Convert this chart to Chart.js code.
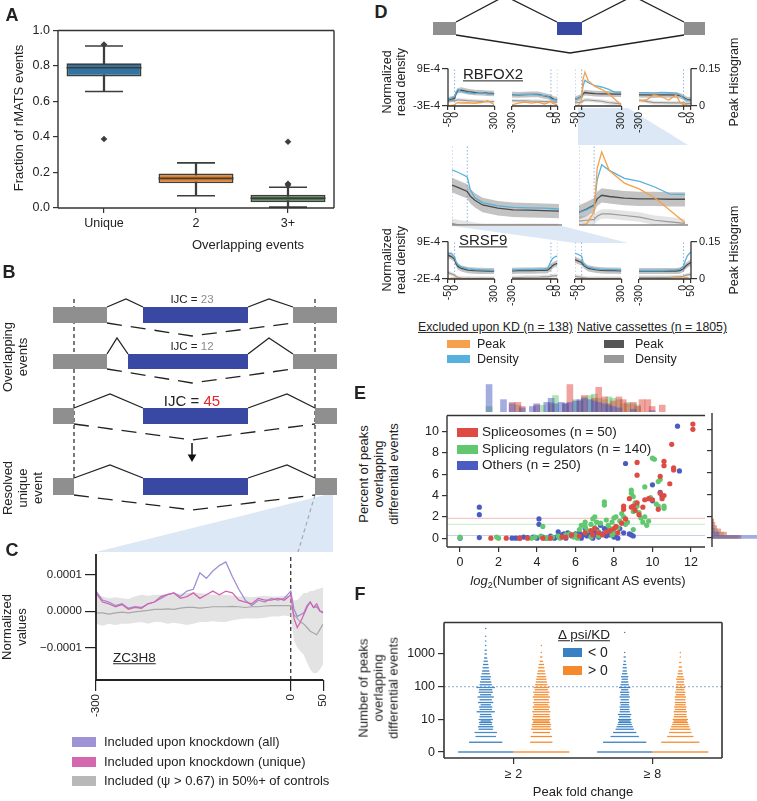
<!DOCTYPE html>
<html>
<head>
<meta charset="utf-8">
<script src="https://cdn.jsdelivr.net/npm/chart.js@4.4.1/dist/chart.umd.min.js"></script>
<style>
body { margin: 0; background: #fff; }
#fig { position: relative; width: 757px; height: 801px; overflow: hidden; font-family: "Liberation Sans", Arial, sans-serif; color: #222; }
#fig canvas { position: absolute; }
.t { position: absolute; white-space: nowrap; line-height: 1.15; text-align: center; }
.p { position: absolute; }
</style>
</head>
<body>
<div id="fig"></div>
<script>
// ---------- A: fraction of rMATS events ----------
var overlapCats = ['Unique', '2', '3+'];
var boxLow = [0.656, 0.069, 0.005];
var boxQ1 = [0.741, 0.139, 0.033];
var boxMed = [0.790, 0.167, 0.055];
var boxQ3 = [0.815, 0.194, 0.074];
var boxHigh = [0.913, 0.254, 0.117];
var outlierCat = ['Unique', 'Unique', '3+', '3+', '3+'];
var outlierVal = [0.921, 0.389, 0.373, 0.137, 0.129];

// ---------- B: schematic (panel units) ----------
var bRowY = [55, 101.5, 156, 226.5];
var bExonH = [16, 15, 16, 17];
var bLeftExon = [[13, 67], [13, 67], [13, 34], [13, 34]];
var bMidExon = [[103, 208], [88, 208], [103, 208], [103, 208]];
var bRightExon = [[253, 297], [253, 297], [275, 297], [275, 297]];
var bPeakL = [86, 77, 70, 70];
var bPeakR = [229, 229, 247, 247];
var bRise = [8, 16, 14, 13];
var bDip = [13, 14, 16, 15];
var bSkipMid = 152;
var bGuideTop = 39;
var bZoomLine = [[275, 235], [258, 292]];
var bArrow = [152, 183, 199];

// ---------- C: ZC3H8 normalized values (x 1e-4) ----------
var cPos = [-300, -290, -280, -270, -260, -250, -240, -230, -220, -210, -200, -190, -180, -170, -160, -150, -140, -130, -120, -110,
            -100, -90, -80, -70, -60, -50, -40, -30, -20, -10, 0, 5, 10, 15, 20, 25, 30, 35, 40, 45, 50];
var cAll = [0.55, 0.3, 0.25, 0.15, 0.2, 0.08, 0.12, 0.1, 0.2, 0.25, 0.35, 0.45, 0.5, 0.4, 0.55, 0.6, 1.05, 0.9, 1.1, 1.25,
            1.35, 0.95, 0.6, 0.3, 0.15, 0.3, 0.25, 0.35, 0.3, 0.35, 0.55, 0.05, -0.15, -0.1, -0.05, 0.15, 0.25, 0.1, 0.12, 0.0, -0.02];
var cUnique = [0.5, 0.25, 0.2, 0.12, 0.18, 0.05, 0.1, 0.08, 0.2, 0.25, 0.4, 0.45, 0.5, 0.35, 0.4, 0.5, 0.35, 0.45, 0.55, 0.45,
               0.55, 0.5, 0.3, 0.25, 0.2, 0.35, 0.3, 0.3, 0.35, 0.3, 0.45, -0.2, -0.45, -0.3, -0.1, 0.1, 0.25, 0.1, 0.2, 0.0, -0.05];
var cCtrl = [-0.05, -0.05, -0.08, -0.05, -0.03, -0.05, -0.02, 0.0, 0.02, 0.05, 0.05, 0.06, 0.05, 0.08, 0.1, 0.1, 0.08, 0.1, 0.12, 0.12,
             0.12, 0.13, 0.12, 0.1, 0.12, 0.12, 0.14, 0.15, 0.15, 0.15, 0.15, -0.1, -0.2, -0.3, -0.35, -0.45, -0.55, -0.6, -0.65, -0.5, -0.35];
var cCtrlHi = [0.45, 0.4, 0.35, 0.38, 0.35, 0.33, 0.4, 0.45, 0.42, 0.45, 0.45, 0.48, 0.5, 0.48, 0.5, 0.52, 0.5, 0.48, 0.45, 0.45,
               0.45, 0.42, 0.4, 0.4, 0.38, 0.4, 0.42, 0.4, 0.4, 0.42, 0.4, 0.3, 0.3, 0.4, 0.5, 0.5, 0.55, 0.55, 0.6, 0.62, 0.65];
var cCtrlLo = [-0.35, -0.4, -0.35, -0.38, -0.35, -0.35, -0.32, -0.3, -0.35, -0.3, -0.3, -0.35, -0.32, -0.35, -0.38, -0.35, -0.3, -0.3, -0.28, -0.3,
               -0.3, -0.25, -0.22, -0.2, -0.2, -0.2, -0.18, -0.15, -0.15, -0.12, -0.15, -0.8, -1.0, -1.1, -1.2, -1.4, -1.6, -1.7, -1.7, -1.6, -1.45];

// ---------- D: read density (x 1e-4) and peak histogram ----------
var dPosIn = [-50, -25, 0, 10, 25, 50, 100, 150, 200, 250, 300];
var dPosOut = [-300, -250, -200, -150, -100, -50, -25, 0, 10, 25, 50];
var dTicksIn = [-50, 0, 300];
var dTicksOut = [-300, 0, 50];
var dDarkSpread = 0.9, dLightSpread = 0.6;

var rbfoxBlue = [[-0.9, -0.5, 0.0, 1.4, 2.3, 1.6, 1.25, 1.0, 1.35, 0.8, 0.8],
                 [0.5, 0.6, 0.72, 0.6, 0.5, 0.3, 0.1, -0.77, -0.9, -1.0, -1.1],
                 [-0.9, -0.6, -0.1, 3.2, 5.1, 4.4, 3.4, 3.0, 2.3, 1.4, 1.35],
                 [1.26, 1.26, 1.1, 1.4, 1.25, 1.1, 0.6, -0.55, -0.9, -1.1, -1.2]];
var rbfoxDark = [[-1.1, -0.8, -0.55, 1.0, 1.9, 2.1, 1.6, 1.35, 1.25, 1.1, 1.0],
                 [0.6, 0.5, 0.6, 0.7, 0.7, 0.2, 0.0, -0.3, -0.6, -0.9, -1.0],
                 [-0.9, -0.5, 0.0, 0.8, 1.25, 1.1, 0.9, 0.8, 0.8, 0.75, 0.75],
                 [0.6, 0.55, 0.5, 0.6, 0.55, 0.5, 0.3, -0.2, -0.6, -0.9, -1.0]];
var rbfoxLight = [[-1.1, -1.2, -1.3, -1.2, -1.0, -1.1, -1.3, -1.4, -1.5, -1.6, -1.6],
                  [-1.3, -1.4, -1.4, -1.5, -1.5, -1.6, -1.6, -1.6, -1.7, -1.8, -1.8],
                  [-2.0, -1.9, -1.8, -1.4, -1.1, -1.1, -1.3, -1.5, -1.9, -2.1, -2.3],
                  [-1.1, -1.5, -1.9, -1.9, -2.0, -2.0, -2.0, -2.0, -2.1, -2.2, -2.2]];
var rbfoxPeak = [[0, 0.002, 0.004, 0.01, 0.013, 0.012, 0.013, 0.011, 0.014, 0.021, 0.005],
                 [0.004, 0.011, 0.015, 0.011, 0.015, 0.008, 0.012, 0.021, 0.012, 0.008, 0.004],
                 [0, 0.002, 0.024, 0.104, 0.134, 0.1, 0.077, 0.066, 0.05, 0.027, 0.004],
                 [0.021, 0.024, 0.044, 0.037, 0.024, 0.044, 0.015, 0.004, 0.007, 0.004, 0]];

var srsfBlue = [[5.5, 5.6, 4.5, 3.1, 2.2, 1.55, 1.0, 0.8, 0.7, 0.6, 0.5],
                [0.6, 0.7, 0.8, 0.75, 0.8, 0.9, 1.0, 3.1, 3.8, 4.3, 4.7],
                [5.5, 5.1, 4.6, 3.0, 2.0, 1.4, 1.0, 0.8, 0.75, 0.7, 0.6],
                [0.5, 0.5, 0.55, 0.5, 0.6, 0.7, 0.9, 1.8, 3.2, 4.8, 6.0]];
var srsfDark = [[5.0, 4.6, 3.8, 2.6, 1.7, 1.1, 0.6, 0.45, 0.4, 0.35, 0.34],
                [0.35, 0.4, 0.4, 0.45, 0.5, 0.5, 0.6, 1.3, 1.8, 2.2, 2.5],
                [3.6, 3.2, 2.8, 2.2, 1.7, 1.1, 0.7, 0.5, 0.45, 0.4, 0.34],
                [0.34, 0.35, 0.35, 0.34, 0.35, 0.35, 0.45, 1.0, 1.6, 2.2, 2.9]];
var srsfLight = [[-0.1, -0.5, -0.9, -1.3, -1.6, -1.7, -1.8, -1.8, -1.8, -1.8, -1.8],
                 [-1.6, -1.6, -1.5, -1.5, -1.5, -1.4, -1.4, -1.2, -1.1, -1.1, -1.0],
                 [-1.2, -1.4, -1.5, -1.6, -1.7, -1.8, -1.8, -1.8, -1.8, -1.8, -1.8],
                 [-1.5, -1.5, -1.5, -1.5, -1.5, -1.4, -1.4, -1.2, -1.0, -0.8, -0.6]];
var srsfPeak = [[0, 0.003, 0.003, 0.002, 0, 0, 0.002, 0, 0.002, 0, 0],
                [0, 0, 0.002, 0, 0, 0, 0.002, 0, 0, 0, 0],
                [0, 0, 0, 0, 0, 0, 0, 0, 0, 0, 0],
                [0, 0, 0, 0, 0.002, 0.005, 0.005, 0.002, 0.005, 0.005, 0]];

// top schematic of D (panel units)
var dExons = [[8, 31], [132, 157], [259, 280]];
var dExonY = 28.5, dExonH = 13;
var dInclLeft = [[31, 22], [80, -4], [132, 22]];
var dInclRight = [[157, 22], [208, -4], [259, 22]];
var dSkip = [[31, 35], [145, 53], [259, 35]];

// ---------- E: percent of peaks vs log2(AS events) ----------
var spliceoX = [1.6, 2.4, 3.1, 3.5, 4.3, 4.7, 5.3, 5.5, 5.8, 6.2, 6.5, 6.8, 6.9, 7.0, 7.2, 7.4, 7.6, 7.8, 8.0, 8.1, 8.2, 8.4, 8.5, 8.5, 8.6,
                8.8, 8.9, 9.0, 9.1, 9.2, 9.2, 9.2, 9.3, 9.5, 9.6, 9.8, 10.0, 10.3, 10.4, 10.4, 10.5, 10.6, 10.6, 10.6, 10.9, 11.0, 11.1, 11.1, 12.1, 12.1];
var spliceoY = [0.0, 0.0, 0.0, 0.0, 0.0, 0.0, 0.1, 0.1, 0.3, 0.2, 0.5, 0.7, 0.3, 0.9, 0.5, 0.3, 0.6, 0.7, 0.9, 1.1, 0.5, 1.4, 2.7, 3.0, 1.8,
                3.7, 2.9, 3.0, 2.6, 3.3, 5.9, 7.1, 2.2, 2.9, 3.6, 3.7, 3.6, 2.7, 4.2, 5.8, 3.7, 4.0, 6.8, 7.2, 5.1, 8.8, 6.6, 6.4, 10.2, 10.7];
var regX = [0, 0, 1.9, 2.0, 3.7, 3.9, 4.2, 4.3, 4.4, 4.6, 4.8, 5.1, 5.2, 5.5, 5.7, 5.9, 6.0, 6.1, 6.2, 6.3, 6.5, 6.5, 6.6, 6.8, 6.8, 6.9,
            7.0, 7.0, 7.1, 7.2, 7.2, 7.3, 7.5, 7.5, 7.6, 7.7, 7.8, 7.9, 7.9, 8.0, 8.0, 8.1, 8.2, 8.3, 8.4, 8.5, 8.6, 8.7, 8.9, 8.9,
            9.0, 9.0, 9.0, 9.1, 9.2, 9.3, 9.4, 9.5, 9.6, 9.6, 9.7, 9.8, 9.9, 10.0, 10.1, 10.2, 10.3, 10.3, 10.4, 10.6, 10.6];
var regY = [0.05, 0.1, 0.1, 0.0, 0.0, 0.1, 0.2, 1.1, 0.0, 0.0, 0.1, 0.2, 0.0, 0.3, 0.4, 0.1, 0.3, 0.0, 0.8, 1.2, 1.5, 1.1, 0.7, 1.3, 0.1, 1.8,
            2.0, 1.0, 1.5, 0.6, 0.2, 1.4, 3.4, 3.1, 1.7, 1.2, 0.9, 1.5, 0.3, 1.9, 0.5, 2.0, 1.0, 1.6, 2.3, 2.0, 1.3, 1.5, 4.2, 4.5,
            3.9, 2.5, 0.8, 3.3, 3.0, 2.4, 1.9, 1.5, 4.8, 2.0, 1.2, 1.6, 3.8, 7.5, 7.4, 3.2, 3.0, 5.3, 5.5, 3.0, 2.8];
var otherX = [0, 1, 1, 1, 2.7, 2.9, 3.1, 3.3, 3.5, 3.8, 4.0, 4.1, 4.1, 4.3, 4.5, 4.7, 4.9, 5.0, 5.1, 5.3, 5.4, 5.5, 5.6, 5.8, 6.0, 6.1,
              6.2, 6.3, 6.4, 6.5, 6.6, 6.7, 6.8, 6.9, 7.0, 7.0, 7.1, 7.2, 7.3, 7.4, 7.5, 7.6, 7.7, 7.8, 7.9, 8.0, 8.1, 8.2, 8.3, 8.5,
              8.6, 8.8, 8.9, 9.0, 10.0, 10.0, 10.4, 10.5, 11.3, 11.4];
var otherY = [0.0, 2.9, 2.2, 0.05, 0.0, 0.0, 0.0, 0.1, 0.05, 0.1, 0.0, 1.8, 1.3, 0.1, 0.0, 0.2, 0.0, 0.1, 0.6, 0.3, 0.4, 0.0, 0.5, 0.2, 0.4, 0.1,
              0.5, 0.0, 0.3, 0.9, 0.2, 0.6, 0.5, 0.0, 0.3, 0.7, 0.8, 0.1, 1.2, 0.4, 0.9, 0.2, 1.0, 0.3, 0.6, 0.1, 0.4, 0.0, 0.9, 0.5,
              7.0, 0.4, 0.3, 0.2, 3.5, 5.0, 4.3, 3.9, 10.5, 6.3];
var groupMean = [1.85, 1.3, 0.25];
var histOtherX = [0, 1, 1.6, 2.3, 3.0, 3.3, 4.0, 4.3, 4.6, 5.0, 5.3, 5.6, 6.0, 6.3, 6.6, 7.0, 7.3, 7.6, 8.0, 8.3, 8.6, 9.0, 10.0, 11.3];
var histOtherH = [1.0, 0.45, 0.3, 0.15, 0.2, 0.3, 0.35, 0.5, 0.3, 0.35, 0.3, 0.35, 0.4, 0.45, 0.5, 0.45, 0.4, 0.35, 0.3, 0.25, 0.2, 0.15, 0.1, 0.05];
var histSpliceoX = [1.6, 2.0, 2.3, 3.3, 4.3, 5.3, 5.6, 6.3, 6.6, 7.3, 7.6, 8.0, 8.3, 8.6, 9.0, 9.3, 9.6, 10.0, 10.3, 10.6, 11.0, 11.3, 12.0];
var histSpliceoH = [0.35, 0.35, 0.2, 0.25, 0.3, 0.3, 1.0, 0.4, 0.6, 0.5, 0.9, 0.55, 0.3, 0.4, 0.55, 0.45, 0.3, 0.35, 0.2, 0.45, 0.45, 0.2, 0.25];
var histRegX = [0, 2.0, 3.7, 4.3, 4.6, 5.3, 6.0, 6.3, 6.6, 7.0, 7.3, 7.6, 8.0, 8.3, 8.6, 9.0, 9.3, 9.6, 10.0, 10.3];
var histRegH = [0.2, 0.25, 0.25, 0.35, 0.6, 0.3, 0.45, 0.4, 0.55, 0.6, 0.65, 0.5, 0.45, 0.55, 0.5, 0.45, 0.3, 0.35, 0.3, 0.25];
var sideHistY = [0.1, 0.4, 0.7, 1.0, 1.3, 1.6];
var sideSpliceo = [0.5, 0.25, 0.15, 0.08, 0.05, 0.03];
var sideReg = [0.45, 0.2, 0.1, 0.05, 0.03, 0.02];
var sideOther = [1.3, 0.12, 0.04, 0.02, 0.01, 0];

// ---------- F: number of peaks per event (value 1 is shown as "0") ----------
var foldCats = ['\u2265 2', '\u2265 8'];
var neg2Val = [1, 2, 3, 4, 5, 6, 7, 8, 9, 10, 12, 14, 17, 20, 24, 28, 33, 40, 48, 57,
               68, 80, 95, 115, 140, 170, 200, 250, 300, 380, 480, 600, 750, 1000, 1300, 1800, 2500, 3500, 6000];
var neg2Cnt = [55, 33, 20, 22, 14, 15, 12, 13, 10, 14, 12, 11, 18, 12, 13, 10, 15, 12, 16, 11,
               14, 13, 18, 12, 11, 9, 10, 8, 7, 6, 5, 4, 3, 2, 2, 1, 1, 1, 1];
var pos2Val = [1, 2, 3, 4, 5, 6, 7, 8, 9, 10, 12, 14, 17, 20, 24, 28, 33, 40, 48, 57,
               68, 80, 95, 115, 140, 170, 200, 250, 300, 380, 480, 600, 800, 1100, 1800];
var pos2Cnt = [56, 22, 21, 17, 20, 18, 19, 17, 16, 18, 17, 16, 18, 15, 17, 14, 16, 15, 17, 14,
               16, 13, 15, 12, 11, 10, 9, 8, 7, 6, 5, 3, 2, 1, 1];
var neg8Val = [1, 2, 3, 4, 5, 6, 7, 8, 9, 10, 12, 14, 17, 20, 24, 28, 33, 40, 48, 57,
               68, 80, 95, 115, 140, 170, 200, 250, 300, 380, 480, 600, 800, 1100, 4500];
var neg8Cnt = [55, 43, 28, 23, 18, 16, 14, 13, 11, 13, 11, 13, 10, 9, 10, 8, 9, 8, 10, 8,
               9, 7, 11, 8, 7, 6, 7, 5, 4, 4, 3, 2, 2, 1, 1];
var pos8Val = [1, 2, 3, 4, 5, 6, 7, 8, 9, 10, 12, 14, 17, 20, 24, 28, 33, 40, 48, 57,
               68, 80, 95, 115, 140, 170, 200, 250, 300, 400, 550, 800, 1100];
var pos8Cnt = [56, 38, 26, 22, 20, 18, 16, 15, 13, 15, 13, 12, 13, 11, 12, 10, 11, 10, 11, 9,
               10, 8, 9, 8, 7, 8, 6, 5, 4, 3, 2, 1, 1];
var refLine = 100;

var blueBox = '#3274a1', orangeBox = '#e1812c', greenBox = '#4b7b50';
var dOrange = '#f5a04a', dBlue = '#56b1dd', dDark = '#4b4b4b', dLight = '#9a9a9a';
var eRed = '#df4a42', eGreen = '#62c870', eBlue = '#4a5cc2';
var fBlue = '#3a80c3', fOrange = '#f5892b';

Chart.defaults.font.family = '"Liberation Sans", Arial, sans-serif';
Chart.defaults.color = '#222';
Chart.defaults.animation = false;
Chart.defaults.responsive = false;
Chart.defaults.devicePixelRatio = 1;
Chart.defaults.plugins.legend.display = false;
Chart.defaults.plugins.tooltip.enabled = false;
Chart.defaults.elements.point.radius = 0;
Chart.defaults.elements.line.tension = 0;

/* spines drawn around the plotting area */
Chart.register({
    id: 'frame',
    defaults: { sides: '', color: '#333', width: 1.3 },
    afterDatasetsDraw: function(chart, args, o) {
        if (!o.sides) return;
        var a = chart.chartArea, ctx = chart.ctx;
        ctx.save();
        ctx.strokeStyle = o.color;
        ctx.lineWidth = o.width;
        ctx.beginPath();
        if (o.sides.indexOf('l') > -1) { ctx.moveTo(a.left, a.top); ctx.lineTo(a.left, a.bottom); }
        if (o.sides.indexOf('r') > -1) { ctx.moveTo(a.right, a.top); ctx.lineTo(a.right, a.bottom); }
        if (o.sides.indexOf('t') > -1) { ctx.moveTo(a.left, a.top); ctx.lineTo(a.right, a.top); }
        if (o.sides.indexOf('b') > -1) { ctx.moveTo(a.left, a.bottom); ctx.lineTo(a.right, a.bottom); }
        ctx.stroke();
        ctx.restore();
    }
});

var fig = document.getElementById('fig');

function text(html, x, y, o) {
    o = o || {};
    var d = document.createElement('div');
    d.className = 't';
    d.innerHTML = html;
    d.style.fontSize = (o.size || 13) + 'px';
    if (o.bold) d.style.fontWeight = 'bold';
    if (o.under) d.style.textDecoration = 'underline';
    if (o.color) d.style.color = o.color;
    d.style.left = x + 'px';
    d.style.top = y + 'px';
    d.style.transform = 'translate(' + (o.left ? '0' : '-50%') + ',-50%)' + (o.rot ? ' rotate(-90deg)' : '');
    fig.appendChild(d);
}

function patch(x, y, w, h, color) {
    var d = document.createElement('div');
    d.className = 'p';
    d.style.cssText = 'left:' + x + 'px;top:' + (y - h / 2) + 'px;width:' + w + 'px;height:' + h + 'px;background:' + color;
    fig.appendChild(d);
}

function shade(points) {
    var d = document.createElement('div');
    d.className = 'p';
    d.style.cssText = 'left:0;top:0;width:757px;height:801px;background:#dce8f5;clip-path:polygon(' +
        points.map(function(p) { return p[0] + 'px ' + p[1] + 'px'; }).join(',') + ')';
    fig.appendChild(d);
}

function makeChart(area, side, cfg) {
    var pad = side.pad === undefined ? 8 : side.pad;
    var sl = side.l || 0, sr = side.r || 0, sb = side.b || 0;
    var c = document.createElement('canvas');
    var w = area[2] - area[0] + 2 * pad + sl + sr;
    var h = area[3] - area[1] + 2 * pad + sb;
    c.width = w; c.height = h;
    c.style.left = (area[0] - pad - sl) + 'px';
    c.style.top = (area[1] - pad) + 'px';
    c.style.width = w + 'px';
    c.style.height = h + 'px';
    fig.appendChild(c);
    cfg.options = cfg.options || {};
    cfg.options.layout = { padding: pad, autoPadding: false };
    return new Chart(c, cfg);
}

function fixedTicks(values) {
    return function(s) { s.ticks = values.map(function(v) { return { value: v }; }); };
}

function axis(o) {
    var a = {
        type: o.type || 'linear',
        position: o.position,
        display: o.display !== false,
        min: o.min, max: o.max,
        reverse: !!o.reverse,
        offset: !!o.offset,
        grid: { display: true, drawOnChartArea: false, drawTicks: true, tickLength: o.tick || 5, color: o.color || '#333', lineWidth: 1.2, offset: false },
        border: { display: false },
        ticks: { display: !o.noLabels, font: { size: o.size || 12.5 }, color: '#222', padding: o.padding === undefined ? 3 : o.padding,
                 autoSkip: false, maxRotation: o.rot || 0, minRotation: o.rot || 0 },
        afterFit: function(s) { if (o.w !== undefined) s.width = o.w; if (o.h !== undefined) s.height = o.h; }
    };
    if (o.values) a.afterBuildTicks = fixedTicks(o.values);
    if (o.labels) a.ticks.callback = o.labels;
    return a;
}

function hidden(min, max, reverse) {
    return { type: 'linear', display: false, min: min, max: max, reverse: !!reverse };
}

function seg(points, color, width, dash) {
    return { data: points.map(function(p) { return { x: p[0], y: p[1] }; }), showLine: true, borderColor: color, borderWidth: width,
             borderDash: dash || [], borderCapStyle: 'butt', pointRadius: 0, fill: false, clip: false };
}

// ---------- light blue zoom shading ----------
shade([[96, 552], [333, 552], [333, 493]]);
shade([[578, 108], [628, 108], [688, 145], [578, 145]]);
shade([[452, 226], [562, 226], [628, 243], [575, 243]]);

// ---------- A ----------
makeChart([58, 28, 334, 208], { l: 50, b: 24 }, {
    type: 'bar',
    data: {
        labels: overlapCats,
        datasets: [
            { type: 'line', data: boxMed, showLine: false, pointStyle: 'line', pointRadius: 37.5, borderColor: '#3d3d3d', borderWidth: 1.6, order: 0 },
            { type: 'line', data: boxHigh, showLine: false, pointStyle: 'line', pointRadius: 19, borderColor: '#3d3d3d', borderWidth: 1.6, order: 1 },
            { type: 'line', data: boxLow, showLine: false, pointStyle: 'line', pointRadius: 19, borderColor: '#3d3d3d', borderWidth: 1.6, order: 1 },
            { type: 'line', data: outlierCat.map(function(c, i) { return { x: c, y: outlierVal[i] }; }), showLine: false,
              pointStyle: 'rectRot', pointRadius: 3.3, backgroundColor: '#3d3d3d', borderColor: '#3d3d3d', borderWidth: 0, order: 1 },
            { data: boxQ1.map(function(q, i) { return [q, boxQ3[i]]; }), backgroundColor: [blueBox, orangeBox, greenBox],
              borderColor: '#3d3d3d', borderWidth: 1.6, borderSkipped: false, barPercentage: 0.815, categoryPercentage: 1, grouped: false, order: 2 },
            { data: boxLow.map(function(l, i) { return [l, boxHigh[i]]; }), backgroundColor: '#3d3d3d', barThickness: 1.6, grouped: false, order: 3 }
        ]
    },
    options: {
        scales: {
            x: axis({ type: 'category', offset: true, h: 24 }),
            y: axis({ min: 0, max: 1, values: [0, 0.2, 0.4, 0.6, 0.8, 1], labels: function(v) { return v.toFixed(1); }, w: 50 })
        },
        plugins: { frame: { sides: 'lrtb', width: 1.4 } }
    }
});

// ---------- B schematic ----------
var bSets = [];
bRowY.forEach(function(y, r) {
    var top = y - bExonH[r] / 2, bot = y + bExonH[r] / 2;
    var L = bLeftExon[r], M = bMidExon[r], R = bRightExon[r];
    bSets.push(seg([[L[1], top], [bPeakL[r], top - bRise[r]], [M[0], top]], '#222', 1.3));
    bSets.push(seg([[M[1], top], [bPeakR[r], top - bRise[r]], [R[0], top]], '#222', 1.3));
    bSets.push(seg([[L[1], bot], [bSkipMid, bot + bDip[r]], [R[0], bot]], '#222', 1.3, [15, 9]));
    bSets.push(seg([[L[0], y], [L[1], y]], '#8f8f8f', bExonH[r]));
    bSets.push(seg([[M[0], y], [M[1], y]], '#3949a3', bExonH[r]));
    bSets.push(seg([[R[0], y], [R[1], y]], '#8f8f8f', bExonH[r]));
});
var guideBottom = bRowY[3] - bExonH[3] / 2;
bSets.push(seg([[bLeftExon[3][1], bGuideTop], [bLeftExon[3][1], guideBottom]], '#222', 1.2, [4, 3]));
bSets.push(seg([[bRightExon[3][0], bGuideTop], [bRightExon[3][0], guideBottom]], '#222', 1.2, [4, 3]));
bSets.push(seg(bZoomLine, '#aaa', 1.2, [4, 3]));
bSets.push(seg([[bArrow[0], bArrow[1]], [bArrow[0], bArrow[2] - 4]], '#111', 1.5));
bSets.push({ data: [{ x: bArrow[0], y: bArrow[2] - 2 }], pointStyle: 'triangle', rotation: 180, pointRadius: 5,
             backgroundColor: '#111', borderColor: '#111', borderWidth: 0, clip: false });
makeChart([40, 260, 340, 560], { pad: 0 }, {
    type: 'scatter',
    data: { datasets: bSets },
    options: { scales: { x: hidden(0, 300), y: hidden(0, 300, true) } }
});

// ---------- C ----------
function cPts(arr) { return cPos.map(function(p, i) { return { x: p, y: arr[i] }; }); }
makeChart([96, 552, 332, 680], { l: 60, b: 40 }, {
    type: 'line',
    data: {
        datasets: [
            { data: cPts(cUnique), borderColor: '#d564b0', borderWidth: 1.3 },
            { data: cPts(cAll), borderColor: '#9d8fd3', borderWidth: 1.3 },
            { data: cPts(cCtrl), borderColor: '#a8a8a8', borderWidth: 1.2 },
            { data: cPts(cCtrlHi), borderWidth: 0, backgroundColor: 'rgba(200,200,200,0.5)', fill: '+1' },
            { data: cPts(cCtrlLo), borderWidth: 0 },
            { data: [{ x: 0, y: -1.89 }, { x: 0, y: 1.57 }], borderColor: '#222', borderWidth: 1.2, borderDash: [4, 3] }
        ]
    },
    options: {
        scales: {
            x: axis({ min: -300, max: 50, values: [-300, 0, 50], labels: function(v) { return String(v); }, rot: 90, size: 11.5, tick: 11, h: 40, color: '#222' }),
            y: axis({ min: -1.89, max: 1.57, values: [-1, 0, 1], size: 11.5, tick: 11, w: 60, color: '#222',
                      labels: function(v) { return v === 0 ? '0.0000' : (v > 0 ? '0.0001' : '\u22120.0001'); } })
        },
        plugins: { frame: { sides: 'lb', color: '#222', width: 1.8 } }
    }
});

// ---------- D ----------
makeChart([425, 0, 715, 60], { pad: 0 }, {
    type: 'scatter',
    data: {
        datasets: [
            seg(dInclLeft, '#222', 1.3), seg(dInclRight, '#222', 1.3), seg(dSkip, '#222', 1.3),
            seg([[dExons[0][0], dExonY], [dExons[0][1], dExonY]], '#8f8f8f', dExonH),
            seg([[dExons[1][0], dExonY], [dExons[1][1], dExonY]], '#3949a3', dExonH),
            seg([[dExons[2][0], dExonY], [dExons[2][1], dExonY]], '#8f8f8f', dExonH)
        ]
    },
    options: { scales: { x: hidden(0, 290), y: hidden(0, 60, true) } }
});

function densityChart(o) {
    function pts(arr, shift) { return o.pos.map(function(p, i) { return { x: p, y: arr[i] + (shift || 0) }; }); }
    var ds = [
        { data: pts(o.peak), borderColor: dOrange, borderWidth: 1.3, yAxisID: 'y2' },
        { data: pts(o.blue), borderColor: dBlue, borderWidth: 1.3 },
        { data: pts(o.dark), borderColor: dDark, borderWidth: 1.3 },
        { data: pts(o.light), borderColor: dLight, borderWidth: 1.2 },
        { data: pts(o.dark, dDarkSpread), borderWidth: 0, backgroundColor: 'rgba(135,135,135,0.5)', fill: '+1' },
        { data: pts(o.dark, -dDarkSpread), borderWidth: 0 },
        { data: pts(o.light, dLightSpread), borderWidth: 0, backgroundColor: 'rgba(195,195,195,0.45)', fill: '+1' },
        { data: pts(o.light, -dLightSpread), borderWidth: 0 }
    ];
    o.bounds.forEach(function(b) {
        ds.push({ data: [{ x: b, y: o.yr[0] }, { x: b, y: o.yr[1] + 20 }], borderColor: '#8db4e2', borderWidth: 1, borderDash: [1.5, 2] });
    });
    var zoomBox = !o.ticks;
    var scales = {
        x: zoomBox ? hidden(o.xr[0], o.xr[1]) :
            axis({ min: o.xr[0], max: o.xr[1], values: o.ticks, labels: function(v) { return String(v); }, rot: 90, size: 10.5, tick: 4, padding: 2, h: 30 }),
        y: o.left ? axis({ position: 'left', min: o.yr[0], max: o.yr[1], values: o.yr, size: 11, tick: 6, padding: 2, w: 36,
                           labels: function(v) { return v + 'E-4'; } }) : hidden(o.yr[0], o.yr[1]),
        y2: o.right ? axis({ position: 'right', min: 0, max: 0.15, values: [0, 0.15], size: 11, tick: 6, padding: 2, w: 32,
                             labels: function(v) { return String(v); } }) : { type: 'linear', display: false, position: 'right', min: 0, max: o.y2max || 0.15 }
    };
    return makeChart(o.area, { l: o.left ? 36 : 0, r: o.right ? 32 : 0, b: zoomBox ? 0 : 30 }, {
        type: 'line',
        data: { datasets: ds },
        options: { scales: scales, plugins: { frame: { sides: (o.left ? 'l' : '') + (o.right ? 'r' : '') + 'b', color: zoomBox ? '#888' : '#333' } } }
    });
}

var dCols = [[448, 501], [512, 564], [575, 628], [639, 691]];
var dIsIn = [true, false, true, false];
var dBounds = [[0], [0, 50], [-50, 0], [0]];
dCols.forEach(function(c, k) {
    var common = { pos: dIsIn[k] ? dPosIn : dPosOut, xr: dIsIn[k] ? [-50, 300] : [-300, 50], ticks: dIsIn[k] ? dTicksIn : dTicksOut,
                   bounds: dBounds[k], left: k === 0, right: k === 3 };
    densityChart(Object.assign({ area: [c[0], 68, c[1], 106], yr: [-3, 9], blue: rbfoxBlue[k], dark: rbfoxDark[k], light: rbfoxLight[k], peak: rbfoxPeak[k] }, common));
    densityChart(Object.assign({ area: [c[0], 241, c[1], 279], yr: [-2, 9], blue: srsfBlue[k], dark: srsfDark[k], light: srsfLight[k], peak: srsfPeak[k] }, common));
});
// enlarged views of the third exon window
densityChart({ area: [452, 145, 562, 225], pos: dPosIn, xr: [-50, 310], bounds: [-50, 0], yr: [-1.4, 8.6],
               blue: srsfBlue[2], dark: srsfDark[2], light: srsfLight[2], peak: srsfPeak[2] });
densityChart({ area: [579, 145, 688, 225], pos: dPosIn, xr: [-50, 310], bounds: [-50, 0], yr: [-2.5, 7.6], y2max: 0.147,
               blue: rbfoxBlue[2], dark: rbfoxDark[2], light: rbfoxLight[2], peak: rbfoxPeak[2] });

// ---------- E ----------
function xy(xs, ys) { return xs.map(function(x, i) { return { x: x, y: ys[i] }; }); }
var eX = [-0.68, 12.73], eY = [-0.83, 11.5];
makeChart([447, 413, 705, 547], { l: 30, b: 30 }, {
    type: 'scatter',
    data: {
        datasets: [
            { data: xy(spliceoX, spliceoY), pointRadius: 2.6, backgroundColor: eRed, borderWidth: 0 },
            { data: xy(regX, regY), pointRadius: 2.6, backgroundColor: eGreen, borderWidth: 0 },
            { data: xy(otherX, otherY), pointRadius: 2.6, backgroundColor: eBlue, borderWidth: 0 },
            seg([[eX[0], groupMean[0]], [eX[1], groupMean[0]]], 'rgba(223,74,66,0.3)', 1.2),
            seg([[eX[0], groupMean[1]], [eX[1], groupMean[1]]], 'rgba(98,200,112,0.3)', 1.2),
            seg([[eX[0], groupMean[2]], [eX[1], groupMean[2]]], 'rgba(74,92,194,0.3)', 1.2)
        ]
    },
    options: {
        scales: {
            x: axis({ min: eX[0], max: eX[1], values: [0, 2, 4, 6, 8, 10, 12], h: 30 }),
            y: axis({ min: eY[0], max: eY[1], values: [0, 2, 4, 6, 8, 10], w: 30 })
        },
        plugins: { frame: { sides: 'lbt', width: 1.4 } }
    }
});
makeChart([447, 384, 705, 412], {}, {
    type: 'bar',
    data: {
        datasets: [
            { data: xy(histOtherX, histOtherH), backgroundColor: 'rgba(74,92,194,0.5)', barThickness: 6, grouped: false },
            { data: xy(histSpliceoX, histSpliceoH), backgroundColor: 'rgba(223,74,66,0.5)', barThickness: 6, grouped: false },
            { data: xy(histRegX, histRegH), backgroundColor: 'rgba(98,200,112,0.5)', barThickness: 6, grouped: false }
        ]
    },
    options: { scales: { x: hidden(eX[0], eX[1]), y: hidden(0, 1.02) } }
});
makeChart([712, 413, 770, 547], { l: 6 }, {
    type: 'bar',
    data: {
        datasets: [
            { data: sideOther.map(function(v, i) { return { x: v, y: sideHistY[i] }; }), backgroundColor: 'rgba(74,92,194,0.5)', barThickness: 3, grouped: false },
            { data: sideSpliceo.map(function(v, i) { return { x: v, y: sideHistY[i] }; }), backgroundColor: 'rgba(223,74,66,0.5)', barThickness: 3, grouped: false },
            { data: sideReg.map(function(v, i) { return { x: v, y: sideHistY[i] }; }), backgroundColor: 'rgba(98,200,112,0.5)', barThickness: 3, grouped: false }
        ]
    },
    options: {
        indexAxis: 'y',
        scales: {
            x: hidden(0, 1),
            y: axis({ min: eY[0], max: eY[1], values: [0, 2, 4, 6, 8, 10], noLabels: true, w: 6 })
        },
        plugins: { frame: { sides: 'l', width: 1.4 } }
    }
});

// ---------- F ----------
var swarmStep = 1 / 139;
function swarm(vals, counts, center) {
    var pts = [];
    vals.forEach(function(v, i) {
        for (var k = 0; k < counts[i]; k++) pts.push({ x: center + (k - (counts[i] - 1) / 2) * swarmStep, y: v });
    });
    return pts;
}
makeChart([444, 620, 722, 758], { l: 40, b: 26 }, {
    type: 'scatter',
    data: {
        datasets: [
            { data: swarm(neg2Val, neg2Cnt, 0.8), pointRadius: 0.75, backgroundColor: fBlue, borderWidth: 0 },
            { data: swarm(pos2Val, pos2Cnt, 1.2), pointRadius: 0.75, backgroundColor: fOrange, borderWidth: 0 },
            { data: swarm(neg8Val, neg8Cnt, 1.8), pointRadius: 0.75, backgroundColor: fBlue, borderWidth: 0 },
            { data: swarm(pos8Val, pos8Cnt, 2.2), pointRadius: 0.75, backgroundColor: fOrange, borderWidth: 0 },
            seg([[0.5, refLine], [2.5, refLine]], '#9ab8dd', 1.2, [2, 2])
        ]
    },
    options: {
        scales: {
            x: axis({ min: 0.5, max: 2.5, values: [1, 2], labels: function(v) { return foldCats[v - 1]; }, tick: 6, h: 26 }),
            y: axis({ type: 'logarithmic', min: 0.66, max: 9150, values: [1, 10, 100, 1000], tick: 6, w: 40,
                      labels: function(v) { return v === 1 ? '0' : String(v); } })
        },
        plugins: { frame: { sides: 'lrtb', width: 1.6 } }
    }
});

// ---------- texts ----------
text('A', 12, 15, { size: 18, bold: true });
text('B', 9, 272, { size: 18, bold: true });
text('C', 12, 550, { size: 18, bold: true });
text('D', 381, 12, { size: 18, bold: true });
text('E', 360, 393, { size: 18, bold: true });
text('F', 360, 594, { size: 18, bold: true });

text('Fraction of rMATS events', 19, 118, { rot: true });
text('Overlapping events', 248, 245);

text('IJC = <span style="color:#8a8a8a">23</span>', 192, 300, { size: 11.5 });
text('IJC = <span style="color:#8a8a8a">12</span>', 192, 347, { size: 11.5 });
text('IJC = <span style="color:#e8262b">45</span>', 192, 401, { size: 15 });
text('Overlapping<br>events', 16, 357, { rot: true });
text('Resolved<br>unique<br>event', 23, 488, { rot: true });

text('Normalized<br>values', 15, 627, { rot: true });
text('ZC3H8', 113, 658, { left: true, under: true, size: 13.5 });
patch(72, 742, 24, 10, '#a093d5');
patch(72, 762, 24, 10, '#d569b0');
patch(72, 781, 24, 10, '#b8b8b8');
text('Included upon knockdown (all)', 104, 742, { left: true });
text('Included upon knockdown (unique)', 104, 762, { left: true });
text('Included (\u03c8 &gt; 0.67) in 50%+ of controls', 104, 781, { left: true });

text('RBFOX2', 463, 74, { left: true, under: true, size: 15 });
text('SRSF9', 459, 240, { left: true, under: true, size: 15 });
text('Normalized<br>read density', 394, 82, { rot: true, size: 12.5 });
text('Normalized<br>read density', 394, 260, { rot: true, size: 12.5 });
text('Peak Histogram', 734, 82, { rot: true, size: 12.5 });
text('Peak Histogram', 734, 250, { rot: true, size: 12.5 });
text('Excluded upon KD (n = 138)', 418, 327, { left: true, under: true, size: 12.3 });
text('Native cassettes (n = 1805)', 577, 327, { left: true, under: true, size: 12.3 });
patch(447, 344, 23, 8, dOrange);
patch(447, 359, 23, 8, dBlue);
patch(604, 344, 20, 8, '#555');
patch(604, 359, 20, 8, '#999');
text('Peak', 477, 344, { left: true, size: 12.5 });
text('Density', 477, 359, { left: true, size: 12.5 });
text('Peak', 635, 344, { left: true, size: 12.5 });
text('Density', 635, 359, { left: true, size: 12.5 });

text('Percent of peaks<br>overlapping<br>differential events', 379, 474, { rot: true });
text('<i>log</i><sub style="font-size:9px">2</sub>(Number of significant AS events)', 578, 582);
patch(457, 432, 21, 9, eRed);
patch(457, 449, 21, 9, eGreen);
patch(457, 465, 21, 9, eBlue);
text('Spliceosomes (n = 50)', 482, 432, { left: true, size: 13.5 });
text('Splicing regulators (n = 140)', 482, 449, { left: true, size: 13.5 });
text('Others (n = 250)', 482, 465, { left: true, size: 13.5 });

text('Number of peaks<br>overlapping<br>differential events', 379, 688, { rot: true });
text('Peak fold change', 583, 792);
text('\u0394 psi/KD', 584, 635, { under: true, size: 13.5 });
patch(563, 652, 19, 9, fBlue);
patch(563, 670, 19, 9, fOrange);
text('&lt; 0', 588, 652, { left: true, size: 14 });
text('&gt; 0', 588, 670, { left: true, size: 14 });
</script>
</body>
</html>
